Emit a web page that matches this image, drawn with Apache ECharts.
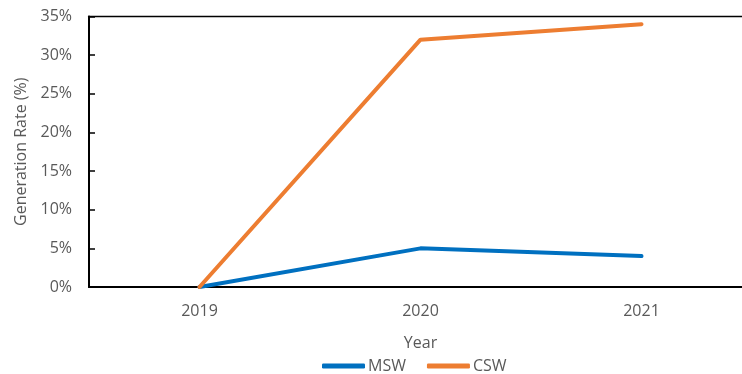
<!DOCTYPE html>
<html>
<head>
<meta charset="utf-8">
<script src="https://cdn.jsdelivr.net/npm/echarts@6/dist/echarts.min.js"></script>
<style>
  html, body { margin: 0; padding: 0; background: #fff; }
  #chart { width: 742px; height: 374px; }
</style>
</head>
<body>
<div id="chart"></div>
<script>
// Generation rate by year for municipal (MSW) and commercial (CSW) solid waste
const years = ['2019', '2020', '2021'];
const mswRate = [0, 5, 4];
const cswRate = [0, 32, 34];
const yTicks = { min: 0, max: 35, step: 5 };

const FONT = '"Open Sans", "Noto Sans", sans-serif';
const GREY = '#595959';

const chart = echarts.init(document.getElementById('chart'), null, { renderer: 'canvas' });
chart.setOption({
  animation: false,
  backgroundColor: '#fff',
  grid: {
    left: 89, top: 16.5, right: -10, bottom: 87,
    outerBoundsMode: 'none',
    containLabel: false,
    show: true, borderColor: '#000', borderWidth: 1.5, backgroundColor: 'transparent'
  },
  legend: {
    left: 322, top: 358, padding: 0,
    itemWidth: 43, itemHeight: 5, itemGap: 21,
    icon: 'roundRect',
    textStyle: { fontFamily: FONT, fontSize: 16, lineHeight: 16, color: GREY, padding: [0, 0, 0, -2] },
    data: ['MSW', 'CSW']
  },
  xAxis: {
    type: 'category',
    data: years,
    boundaryGap: true,
    name: 'Year',
    nameLocation: 'middle',
    nameGap: 48,
    nameTextStyle: { fontFamily: FONT, fontSize: 16, color: GREY },
    axisLine: { lineStyle: { color: '#000', width: 2 } },
    axisTick: { show: false },
    axisLabel: { fontFamily: FONT, fontSize: 16, color: GREY, margin: 16 }
  },
  yAxis: {
    type: 'value',
    min: yTicks.min, max: yTicks.max, interval: yTicks.step,
    name: 'Generation Rate (%)',
    nameLocation: 'middle',
    nameGap: 53,
    nameTextStyle: { fontFamily: FONT, fontSize: 16, color: GREY },
    axisLine: { show: true, lineStyle: { color: '#000', width: 2 } },
    axisTick: { show: true, inside: true, length: 6, lineStyle: { color: '#000', width: 1.5 } },
    splitLine: { show: false },
    axisLabel: { fontFamily: FONT, fontSize: 16, color: GREY, margin: 17, formatter: '{value}%' }
  },
  series: [
    {
      name: 'MSW', type: 'line', data: mswRate,
      symbol: 'none', color: '#0070C0',
      lineStyle: { width: 4, cap: 'round', join: 'round' }
    },
    {
      name: 'CSW', type: 'line', data: cswRate,
      symbol: 'none', color: '#ED7D31',
      lineStyle: { width: 4, cap: 'round', join: 'round' }
    }
  ]
});
</script>
</body>
</html>
